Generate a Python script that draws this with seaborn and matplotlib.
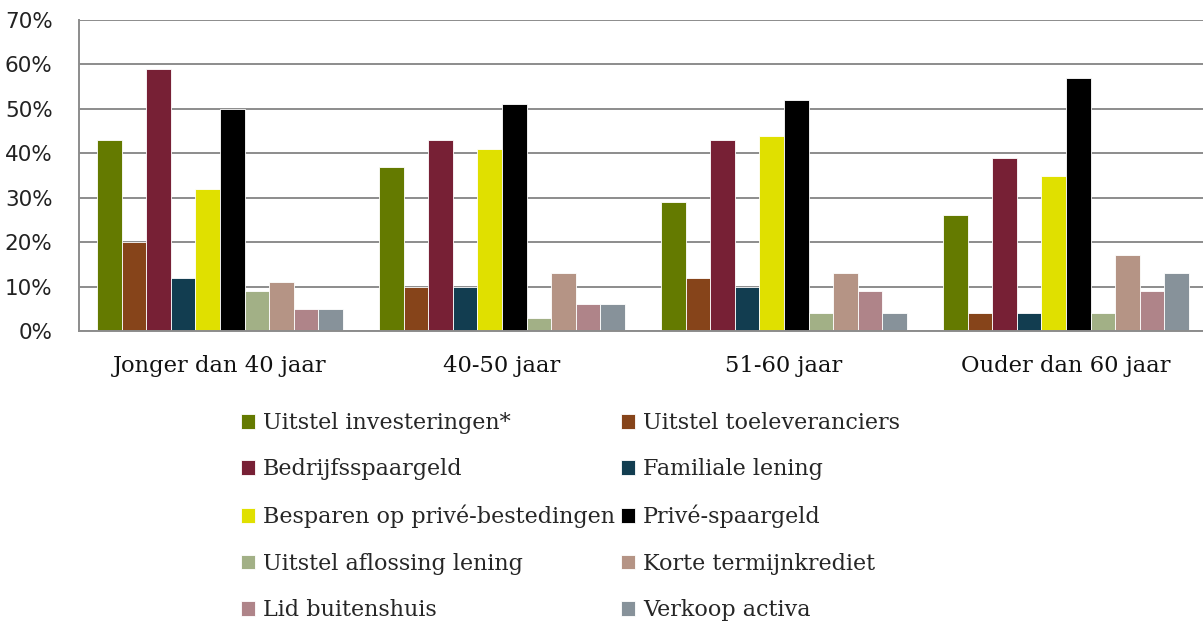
import numpy as np
import pandas as pd
import matplotlib.pyplot as plt
import seaborn as sns
from matplotlib.ticker import PercentFormatter, FixedLocator

# Data
groups = ["Jonger dan 40 jaar", "40-50 jaar", "51-60 jaar", "Ouder dan 60 jaar"]
series = ["Uitstel investeringen*", "Uitstel toeleveranciers", "Bedrijfsspaargeld",
          "Familiale lening", "Besparen op privé-bestedingen", "Privé-spaargeld",
          "Uitstel aflossing lening", "Korte termijnkrediet", "Lid buitenshuis",
          "Verkoop activa"]
jonger_40 = [43, 20, 59, 12, 32, 50, 9, 11, 5, 5]
j40_50 = [37, 10, 43, 10, 41, 51, 3, 13, 6, 6]
j51_60 = [29, 12, 43, 10, 44, 52, 4, 13, 9, 4]
ouder_60 = [26, 4, 39, 4, 35, 57, 4, 17, 9, 13]
colors = ["#647A00", "#86441A", "#772035", "#123D50", "#E0E000", "#000000",
          "#A2B086", "#B59485", "#AF8489", "#87929A"]

rows = []
for g, vals in zip(groups, [jonger_40, j40_50, j51_60, ouder_60]):
    for s, v in zip(series, vals):
        rows.append({"groep": g, "reeks": s, "pct": v})
df = pd.DataFrame(rows)

sns.set_style("white")
plt.rcParams["font.family"] = ["DejaVu Serif"]

fig = plt.figure(figsize=(12.03, 6.25), dpi=100)
ax = fig.add_axes([79 / 1203, 1 - 331 / 625, 1128 / 1203, 311 / 625])

sns.barplot(data=df, x="groep", y="pct", hue="reeks", order=groups,
            hue_order=series, palette=colors, width=0.87, saturation=1,
            edgecolor="white", linewidth=0.6, legend=True, ax=ax)

ax.set_ylim(0, 70)
ax.set_xlim(-0.5, 3.5)
ax.yaxis.set_major_locator(FixedLocator(np.arange(0, 71, 10)))
ax.yaxis.set_major_formatter(PercentFormatter(decimals=0))
ax.grid(axis="y", color="#8c8c8c", linewidth=1.4)
ax.set_axisbelow(True)
ax.set_xlabel("")
ax.set_ylabel("")

for side in ["top", "right"]:
    ax.spines[side].set_visible(False)
for side in ["left", "bottom"]:
    ax.spines[side].set_color("#8c8c8c")
    ax.spines[side].set_linewidth(1.4)

ax.tick_params(axis="y", length=9, width=1.4, color="#8c8c8c", labelsize=15.5,
               pad=10, labelcolor="#222222")
for lbl in ax.get_yticklabels():
    lbl.set_fontfamily("DejaVu Sans")
ax.tick_params(axis="x", which="major", length=0, labelsize=16.3, pad=17,
               labelcolor="#111111")
ax.set_xticks([-0.5, 0.5, 1.5, 2.5, 3.5], minor=True)
ax.tick_params(axis="x", which="minor", length=8, width=1.4, color="#8c8c8c")

# legend below, two columns filled row by row
handles, labels = ax.get_legend_handles_labels()
ax.get_legend().remove()
order = [0, 2, 4, 6, 8, 1, 3, 5, 7, 9]
fig.legend([handles[i] for i in order], [labels[i] for i in order], ncol=2,
           loc="upper left", bbox_to_anchor=(232 / 1203, 1 - 403 / 625),
           frameon=False, fontsize=16, handlelength=0.65, handleheight=0.65,
           handletextpad=0.35, columnspacing=0.25, labelspacing=1.1,
           borderaxespad=0)

fig.savefig("out.png", dpi=100)
